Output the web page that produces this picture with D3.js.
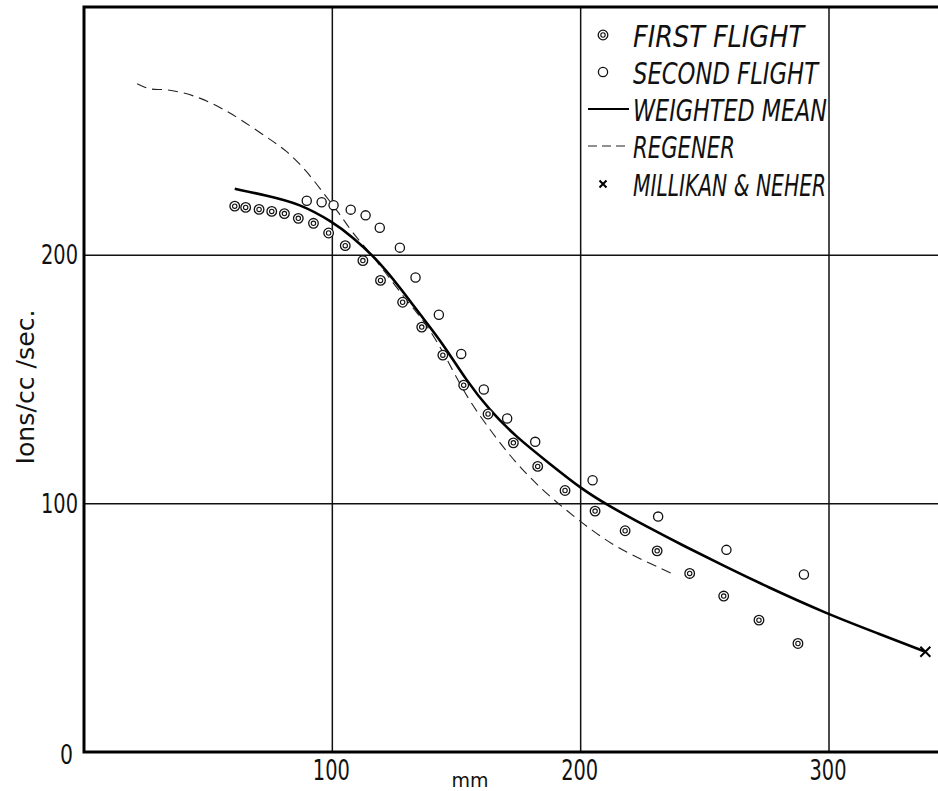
<!DOCTYPE html>
<html>
<head>
<meta charset="utf-8">
<script src="https://cdn.jsdelivr.net/npm/d3@7"></script>
<style>
  body { margin: 0; background: #fff; }
  svg { display: block; }
  .hand { font-family: "Liberation Sans Narrow", "DejaVu Sans Condensed", "DejaVu Sans", sans-serif; }
</style>
</head>
<body>
<div id="chart"></div>
<script>
// first flight (double circles)
const firstX = [60.7, 65.1, 70.5, 75.6, 80.7, 86.3, 92.4, 98.5, 105.2, 112.3, 119.4, 128.3, 136.0, 144.5,
  152.9, 162.7, 172.9, 182.7, 193.7, 205.8, 217.9, 230.8, 243.9, 257.6, 271.8, 287.5];
const firstY = [219.8, 219.3, 218.5, 217.7, 216.8, 214.9, 212.9, 209.0, 203.9, 197.9, 189.9, 181.1, 171.1, 159.8,
  147.7, 136.1, 124.5, 115.0, 105.3, 97.0, 89.1, 81.0, 71.9, 62.8, 53.1, 43.7];

// second flight (single circles)
const secondX = [89.7, 95.7, 100.5, 107.4, 113.4, 119.1, 127.2, 133.5, 142.9, 151.9, 161.0, 170.4, 181.7,
  204.8, 231.2, 258.7, 289.9];
const secondY = [222.0, 221.4, 220.2, 218.4, 216.1, 211.1, 203.1, 191.1, 176.1, 160.3, 146.0, 134.3, 124.9,
  109.4, 94.8, 81.4, 71.5];

// weighted mean curve
const meanX = [60.7, 73.5, 86.9, 100.2, 108, 117.7, 127.1, 135.1, 144.5, 153.9, 163.3, 174.0, 187.4, 200.1,
  210.8, 226.3, 242.3, 258.4, 274.5, 299.3, 320.1, 338.8];
const meanY = [226.8, 224.1, 220.8, 213.4, 207.5, 198.7, 187.2, 176.5, 164.5, 149.7, 137.6, 126.9, 116.2, 106.1,
  99.4, 90.9, 82.6, 74.6, 66.8, 55.6, 47.6, 40.4];

// Regener curve
const regX = [21.4, 25.2, 27.9, 33.3, 39.9, 46.6, 54.7, 62.7, 73.5, 81.5, 89.5, 97.6, 102.9, 108.3, 115.0,
  121.7, 129.8, 137.8, 145.8, 153.9, 164.6, 174.0, 184.7, 194.1, 204.8, 214.2, 226.3, 238.3];
const regY = [269.1, 267.3, 266.7, 266.9, 265.5, 263.5, 259.7, 255.0, 247.6, 242.3, 234.2, 223.5, 216.8, 208.7,
  201.3, 192.6, 181.9, 172.5, 159.1, 143.0, 128.2, 116.2, 105.4, 97.4, 89.0, 82.6, 76.6, 71.2];

// Millikan & Neher
const millikanX = [338.8];
const millikanY = [40.4];

const xTicks = [100, 200, 300];
const yTicks = [0, 100, 200];
const legendLabels = ["FIRST FLIGHT", "SECOND FLIGHT", "WEIGHTED MEAN", "REGENER", "MILLIKAN & NEHER"];

const W = 938, H = 791;
const svg = d3.select("#chart").append("svg").attr("width", W).attr("height", H);

const x = d3.scaleLinear().domain([0, 300]).range([84, 829]);
const y = d3.scaleLinear().domain([0, 300]).range([752, 7]);

// grid
svg.selectAll(".vgrid").data(xTicks).enter().append("line")
  .attr("x1", d => x(d)).attr("x2", d => x(d))
  .attr("y1", y(300)).attr("y2", y(0))
  .attr("stroke", "#111").attr("stroke-width", 1.5);
svg.selectAll(".hgrid").data(yTicks.filter(d => d > 0)).enter().append("line")
  .attr("x1", x(0)).attr("x2", W)
  .attr("y1", d => y(d)).attr("y2", d => y(d))
  .attr("stroke", "#111").attr("stroke-width", 1.5);

// frame
svg.append("path")
  .attr("d", `M${W},${y(300)}H${x(0)}V${y(0)}H${W}`)
  .attr("fill", "none").attr("stroke", "#000").attr("stroke-width", 3);

// tick labels
svg.selectAll(".xt").data(xTicks).enter().append("text")
  .attr("class", "hand")
  .attr("x", d => x(d) - 1).attr("y", 780)
  .attr("text-anchor", "middle")
  .attr("font-size", 28).attr("fill", "#111")
  .attr("textLength", 37).attr("lengthAdjust", "spacingAndGlyphs")
  .text(d => d);
svg.selectAll(".yt").data(yTicks).enter().append("text")
  .attr("class", "hand")
  .attr("x", d => d === 0 ? 73 : 78).attr("y", d => d === 0 ? y(d) + 12 : y(d) + 9)
  .attr("text-anchor", "end")
  .attr("font-size", 26).attr("fill", "#111")
  .attr("textLength", d => d === 0 ? 13 : 37).attr("lengthAdjust", "spacingAndGlyphs")
  .text(d => d);

svg.append("text")
  .attr("x", 470).attr("y", 787)
  .attr("text-anchor", "middle")
  .attr("font-family", "DejaVu Sans, sans-serif")
  .attr("font-size", 19).attr("fill", "#111")
  .text("mm");

svg.append("text")
  .attr("transform", "translate(34,387) rotate(-90)")
  .attr("text-anchor", "middle")
  .attr("font-family", "DejaVu Sans, sans-serif")
  .attr("font-size", 24).attr("fill", "#111")
  .attr("textLength", 155).attr("lengthAdjust", "spacingAndGlyphs")
  .text("Ions/cc /sec.");

// lines
const line = d3.line().curve(d3.curveBasis);
svg.append("path")
  .attr("d", line(regX.map((v, i) => [x(v), y(regY[i])])))
  .attr("fill", "none").attr("stroke", "#222").attr("stroke-width", 1.1)
  .attr("stroke-dasharray", "10,6");
svg.append("path")
  .attr("d", line(meanX.map((v, i) => [x(v), y(meanY[i])])))
  .attr("fill", "none").attr("stroke", "#000").attr("stroke-width", 2.6);

// markers
function doubleCircle(g, cx, cy) {
  g.append("circle").attr("cx", cx).attr("cy", cy).attr("r", 4.8)
    .attr("fill", "#fff").attr("stroke", "#111").attr("stroke-width", 1.3);
  g.append("circle").attr("cx", cx).attr("cy", cy).attr("r", 2.2)
    .attr("fill", "none").attr("stroke", "#111").attr("stroke-width", 1.1);
}
function singleCircle(g, cx, cy) {
  g.append("circle").attr("cx", cx).attr("cy", cy).attr("r", 4.6)
    .attr("fill", "#fff").attr("stroke", "#111").attr("stroke-width", 1.3);
}
function cross(g, cx, cy, s) {
  g.append("path").attr("d", `M${cx - s},${cy - s}L${cx + s},${cy + s}M${cx - s},${cy + s}L${cx + s},${cy - s}`)
    .attr("stroke", "#000").attr("stroke-width", 2);
}

const pts = svg.append("g");
firstX.forEach((v, i) => doubleCircle(pts, x(v), y(firstY[i])));
secondX.forEach((v, i) => singleCircle(pts, x(v), y(secondY[i])));
millikanX.forEach((v, i) => cross(pts, x(v), y(millikanY[i]), 5));

// legend
const legend = svg.append("g");
const rowY = [47, 84, 121, 158, 196];
const textW = [171, 185, 194, 102, 193];
legendLabels.forEach((lab, i) => {
  legend.append("text")
    .attr("class", "hand")
    .attr("x", 633).attr("y", rowY[i])
    .attr("font-size", 30).attr("font-style", "italic").attr("fill", "#111")
    .attr("textLength", textW[i]).attr("lengthAdjust", "spacingAndGlyphs")
    .text(lab);
});
doubleCircle(legend, 603, rowY[0] - 12);
singleCircle(legend, 603, rowY[1] - 12);
legend.append("line").attr("x1", 588).attr("x2", 629).attr("y1", rowY[2] - 12).attr("y2", rowY[2] - 12)
  .attr("stroke", "#000").attr("stroke-width", 2.2);
legend.append("line").attr("x1", 588).attr("x2", 629).attr("y1", rowY[3] - 12).attr("y2", rowY[3] - 12)
  .attr("stroke", "#222").attr("stroke-width", 1.1).attr("stroke-dasharray", "9,5");
cross(legend, 603, rowY[4] - 12, 3.5);
</script>
</body>
</html>
